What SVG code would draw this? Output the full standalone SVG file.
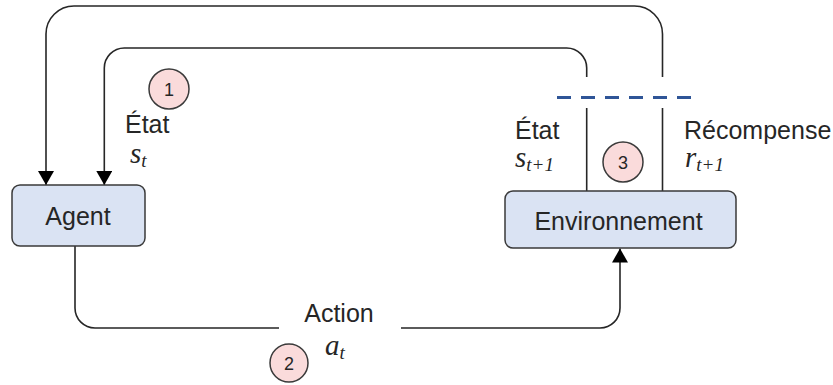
<svg xmlns="http://www.w3.org/2000/svg" width="833" height="385" viewBox="0 0 833 385">
<style>
.box{fill:#dae3f3;stroke:#3a3a3a;stroke-width:1.5}
.lbl{font-family:"Liberation Sans",Arial,sans-serif;font-size:25px;fill:#262626}
.math{font-family:"Liberation Serif","Times New Roman",serif;font-style:italic;font-size:29px;fill:#262626}
.sub{font-size:19px}
.badge{fill:#fadbdb;stroke:#3a3a3a;stroke-width:1.5}
.num{font-family:"Liberation Sans",Arial,sans-serif;font-size:18px;fill:#262626;text-anchor:middle}
.wire{fill:none;stroke:#262626;stroke-width:1.6}
.dash{fill:none;stroke:#2f5597;stroke-width:3;stroke-dasharray:14 10}
</style>
<defs>
<marker id="arr" viewBox="0 0 14 16" refX="14" refY="8" markerWidth="14" markerHeight="16" markerUnits="userSpaceOnUse" orient="auto">
<path d="M0,0 L14,8 L0,16 Z" fill="#000"/>
</marker>
</defs>
<rect width="833" height="385" fill="#fff"/>
<g id="connectors">
<path class="wire" d="M662.5,77 V34 A28,28 0 0 0 634.5,6 H74 A28,28 0 0 0 46,34 V185" marker-end="url(#arr)"/>
<path class="wire" d="M586.7,77 V68 A20,20 0 0 0 566.7,48 H124.3 A20,20 0 0 0 104.3,68 V185" marker-end="url(#arr)"/>
<path class="wire" d="M586.7,108 V191"/>
<path class="wire" d="M662.5,108 V191"/>
<path class="dash" d="M557,97.5 H691"/>
<path class="wire" d="M75,246 V308 A20,20 0 0 0 95,328 H279"/>
<path class="wire" d="M401,328 H600 A20,20 0 0 0 620,308 V248.5" marker-end="url(#arr)"/>
</g>
<g id="agent">
<rect class="box" x="12" y="185" width="133" height="61" rx="8"/>
<text class="lbl" x="78" y="225" text-anchor="middle">Agent</text>
</g>
<g id="environnement">
<rect class="box" x="505" y="191" width="231" height="57" rx="8"/>
<text class="lbl" x="618.5" y="230" text-anchor="middle">Environnement</text>
</g>
<g id="label-etat-st">
<text class="lbl" x="125" y="133">État</text>
<text class="math" x="130" y="163">s<tspan class="sub" dy="4">t</tspan></text>
</g>
<g id="label-etat-st1">
<text class="lbl" x="515" y="139">État</text>
<text class="math" x="515" y="167">s<tspan class="sub" dy="4">t+1</tspan></text>
</g>
<g id="label-recompense">
<text class="lbl" x="684" y="139">Récompense</text>
<text class="math" x="685" y="167">r<tspan class="sub" dy="4">t+1</tspan></text>
</g>
<g id="label-action">
<text class="lbl" x="339" y="322" text-anchor="middle">Action</text>
<text class="math" x="325" y="355">a<tspan class="sub" dy="4">t</tspan></text>
</g>
<g id="badge1">
<circle class="badge" cx="169" cy="89" r="20"/>
<text class="num" x="169" y="95.5">1</text>
</g>
<g id="badge2">
<circle class="badge" cx="289" cy="363" r="19"/>
<text class="num" x="289" y="369.5">2</text>
</g>
<g id="badge3">
<circle class="badge" cx="623" cy="162" r="20"/>
<text class="num" x="623" y="168.5">3</text>
</g>
</svg>
